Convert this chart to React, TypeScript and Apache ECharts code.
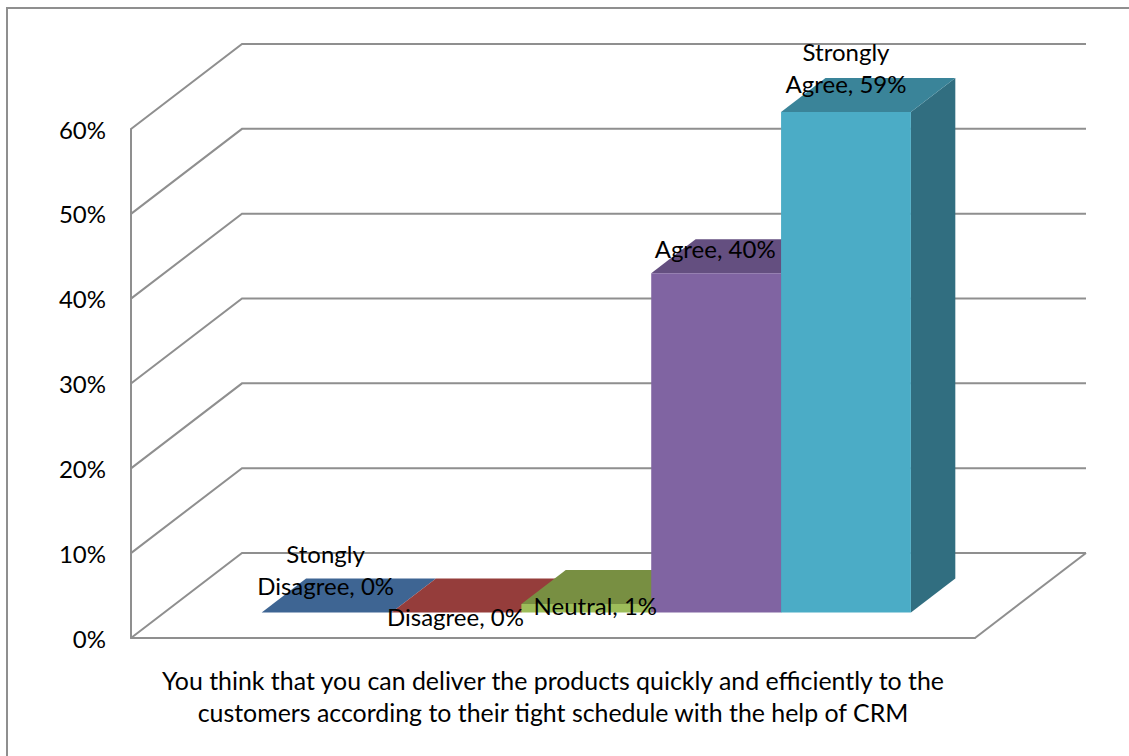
import React, { useEffect, useRef } from "react";
import * as echarts from "echarts";

const question = "You think that you can deliver the products quickly and efficiently to the\ncustomers according to their tight schedule with the help of CRM";
const answers = ["Stongly\nDisagree", "Disagree", "Neutral", "Agree", "Strongly\nAgree"];
const shares = [0, 0, 1, 40, 59];
const axisTicks = [0, 10, 20, 30, 40, 50, 60];

const frontColors = ["#4f81bd", "#c0504d", "#9dbd5a", "#8064a2", "#4bacc6"];
const topColors = ["#3e6593", "#953d3b", "#788f42", "#644f80", "#3a8499"];
const sideColors = ["#335378", "#7a3230", "#61753a", "#513f69", "#316e80"];

// Label centre relative to the middle of the bar's top front edge.
const labelNudges = [[-1, -43], [-1, 4], [9, 1], [-1, -25], [0, -44]];

const gridLine = "#8f8f8f";
const fontFamily = "Lato, Carlito, sans-serif";

// Oblique projection: the box runs this far back, and the bars sit inside it.
const boxDepth = { x: 111, y: -85 };
const barInset = 0.3;
const barDepth = 0.4;
const gapWidth = 1.5;

function renderWall(params: any, api: any) {
  const box = params.coordSys;
  const value = api.value(0);
  const y = api.coord([0, value])[1];
  const left = box.x;
  const backY = y + boxDepth.y;
  const shape = { points: [[left, y], [left + boxDepth.x, backY], [left + box.width + boxDepth.x, backY]] };
  const style = { stroke: gridLine, lineWidth: 2, fill: "none" };
  const children: any[] = [{ type: "polyline", shape, style }];
  if (value === 0) {
    children.push({
      type: "polyline",
      shape: { points: [[left + box.width, y], [left + box.width + boxDepth.x, backY]] },
      style,
    });
  }
  return { type: "group", children };
}

function makeBarRenderer(index: number) {
  return (params: any, api: any) => {
    const box = params.coordSys;
    const value = api.value(1);
    const barWidth = box.width / (answers.length + gapWidth);
    const base = api.coord([0, 0]);
    const top = api.coord([0, value]);
    const x0 = box.x + barWidth * (gapWidth / 2 + index) + boxDepth.x * barInset;
    const x1 = x0 + barWidth;
    const yBase = base[1] + boxDepth.y * barInset;
    const yTop = top[1] + boxDepth.y * barInset;
    const dx = boxDepth.x * barDepth;
    const dy = boxDepth.y * barDepth;
    const face = (points: number[][], fill: string) => ({
      type: "polygon",
      shape: { points },
      style: { fill, stroke: "none" },
    });
    const [nudgeX, nudgeY] = labelNudges[index];
    return {
      type: "group",
      children: [
        face([[x1, yBase], [x1 + dx, yBase + dy], [x1 + dx, yTop + dy], [x1, yTop]], sideColors[index]),
        face([[x0, yTop], [x0 + dx, yTop + dy], [x1 + dx, yTop + dy], [x1, yTop]], topColors[index]),
        face([[x0, yBase], [x1, yBase], [x1, yTop], [x0, yTop]], frontColors[index]),
        {
          type: "text",
          z2: 100,
          x: (x0 + x1) / 2 + nudgeX,
          y: yTop + nudgeY,
          style: {
            text: `${answers[index]}, ${shares[index]}%`,
            textAlign: "center",
            textVerticalAlign: "middle",
            fontFamily,
            fontSize: 24,
            lineHeight: 32,
            fill: "#000",
          },
        },
      ],
    };
  };
}

export default function App() {
  const ref = useRef<HTMLDivElement>(null);

  useEffect(() => {
    const chart = echarts.init(ref.current!, null, { renderer: "svg" });
    chart.setOption({
      animation: false,
      backgroundColor: "#fff",
      grid: { left: 131, top: 129, width: 844, height: 509 },
      xAxis: {
        type: "category",
        data: [question],
        axisTick: { show: false },
        axisLine: { lineStyle: { color: gridLine, width: 2 } },
        axisLabel: {
          margin: 26,
          color: "#000",
          fontFamily,
          fontSize: 24.9,
          lineHeight: 32,
          interval: 0,
        },
      },
      yAxis: {
        type: "value",
        min: 0,
        max: 60,
        interval: 10,
        splitLine: { show: false },
        axisTick: { show: false },
        axisLine: { show: true, lineStyle: { color: gridLine, width: 2 } },
        axisLabel: {
          margin: 25,
          color: "#000",
          fontFamily,
          fontSize: 24,
          formatter: "{value}%",
        },
      },
      graphic: [
        {
          type: "polyline",
          shape: { points: [[7, 756], [7, 8], [1129, 8]] },
          style: { stroke: gridLine, lineWidth: 2, fill: "none" },
          silent: true,
        },
      ],
      series: [
        {
          type: "custom",
          name: "walls",
          silent: true,
          clip: false,
          renderItem: renderWall,
          encode: { y: 0 },
          data: axisTicks.map((t) => [t]),
        },
        ...answers.map((name, i) => ({
          type: "custom",
          name,
          silent: true,
          clip: false,
          renderItem: makeBarRenderer(i),
          encode: { x: 0, y: 1 },
          data: [[0, shares[i]]],
        })),
      ],
    });
    return () => chart.dispose();
  }, []);

  return <div ref={ref} style={{ position: "absolute", left: 0, top: 0, width: 1129, height: 756 }} />;
}
